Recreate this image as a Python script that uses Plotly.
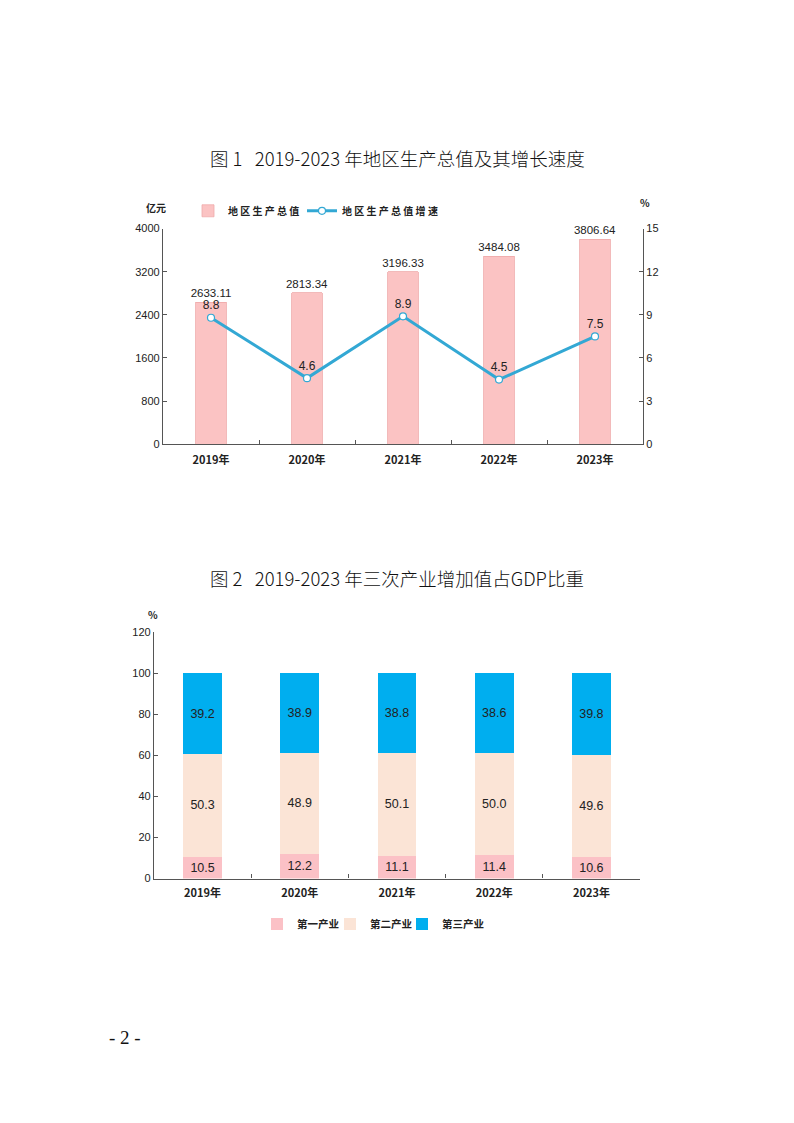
import plotly.graph_objects as go

# ---- data ----
years = ["2019年", "2020年", "2021年", "2022年", "2023年"]
gdp = [2633.11, 2813.34, 3196.33, 3484.08, 3806.64]
gdp_growth = [8.8, 4.6, 8.9, 4.5, 7.5]

primary = [10.5, 12.2, 11.1, 11.4, 10.6]
secondary = [50.3, 48.9, 50.1, 50.0, 49.6]
tertiary = [39.2, 38.9, 38.8, 38.6, 39.8]

W, H = 794, 1123
CJK = "Noto Sans CJK SC"
AX = "#555555"


def px_x(px):
    return px / W


def px_y(px):
    return 1 - px / H


def spaced(s):
    # legend labels in the original are letter-spaced
    return " ".join(s)


fig = go.Figure()

# ---- chart 1: GDP bars + growth line ----
fig.add_trace(go.Bar(
    x=years, y=gdp, name=spaced("地区生产总值"),
    marker=dict(color="#FBC3C3", line=dict(color="#EFA9A9", width=0.8)),
    text=[f"{v:.2f}" for v in gdp], textposition="outside",
    constraintext="none",
    textfont=dict(size=11.5, color="#222222", family="Liberation Sans"),
    cliponaxis=False, xaxis="x", yaxis="y", legend="legend",
))
fig.add_trace(go.Scatter(
    x=years, y=gdp_growth, name=spaced("地区生产总值增速"), mode="lines+markers+text",
    line=dict(color="#33A8D4", width=3),
    marker=dict(size=7, color="white", line=dict(color="#33A8D4", width=1.2)),
    text=[f"{v:.1f}" for v in gdp_growth], textposition="top center",
    textfont=dict(size=12, color="#222222", family="Liberation Sans"),
    cliponaxis=False, xaxis="x", yaxis="y2", legend="legend2",
))

# ---- chart 2: stacked shares ----
for i, (name, vals, col) in enumerate([("第一产业", primary, "#FBC1C6"),
                                       ("第二产业", secondary, "#FBE4D6"),
                                       ("第三产业", tertiary, "#00AEEF")]):
    fig.add_trace(go.Bar(
        x=years, y=vals, name=name,
        marker=dict(color=col, line=dict(width=0)),
        text=[f"{v:.1f}" for v in vals], textposition="inside",
        insidetextanchor="middle", constraintext="none",
        textfont=dict(size=12.5, color="#222222", family="Liberation Sans"),
        xaxis="x3", yaxis="y3", legend=f"legend{i + 3}", width=0.4,
    ))

tickfont = dict(size=11, color="#222222", family="Liberation Sans")
xtickfont = dict(size=11, color="#222222", family=CJK, weight="bold")
legfont = dict(size=10, family=CJK, color="#222222", weight="bold")
legfont2 = dict(size=10.5, family=CJK, color="#222222", weight="bold")


def leg(x, y, font=legfont):
    return dict(orientation="h", x=px_x(x), y=px_y(y), xanchor="left",
                yanchor="middle", font=font, bgcolor="rgba(0,0,0,0)",
                itemwidth=30)


fig.update_layout(
    width=W, height=H,
    margin=dict(l=0, r=0, t=0, b=0),
    paper_bgcolor="white", plot_bgcolor="white",
    barmode="stack", bargap=0.68,
    showlegend=True,
    xaxis=dict(domain=[px_x(163), px_x(643)], anchor="y", type="category",
               showline=True, linecolor=AX, linewidth=1.2,
               ticks="inside", ticklen=4, tickcolor=AX, tickson="boundaries",
               tickfont=xtickfont, ticklabelstandoff=5, showgrid=False),
    yaxis=dict(domain=[px_y(443), px_y(225)], anchor="x", range=[0, 4000],
               tickvals=[0, 800, 1600, 2400, 3200, 4000],
               showline=True, linecolor=AX, linewidth=1.2,
               ticks="inside", ticklen=4, tickcolor=AX,
               tickfont=tickfont, showgrid=False, zeroline=False),
    yaxis2=dict(overlaying="y", side="right", anchor="x", range=[0, 15],
                tickvals=[0, 3, 6, 9, 12, 15],
                showline=True, linecolor=AX, linewidth=1.2,
                ticks="inside", ticklen=4, tickcolor=AX,
                tickfont=tickfont, showgrid=False, zeroline=False),
    xaxis3=dict(domain=[px_x(154), px_x(640)], anchor="y3", type="category",
                showline=True, linecolor=AX, linewidth=1.2,
                ticks="inside", ticklen=4, tickcolor=AX, tickson="boundaries",
                tickfont=xtickfont, ticklabelstandoff=4, showgrid=False),
    yaxis3=dict(domain=[px_y(882), px_y(633)], anchor="x3", range=[0, 120],
                tickvals=[0, 20, 40, 60, 80, 100, 120],
                showline=True, linecolor=AX, linewidth=1.2,
                ticks="inside", ticklen=4, tickcolor=AX,
                tickfont=tickfont, showgrid=False, zeroline=False),
    legend=leg(188, 207),
    legend2=leg(302, 207),
    legend3=leg(257, 928, legfont2),
    legend4=leg(330, 928, legfont2),
    legend5=leg(402, 928, legfont2),
)

ann = [
    dict(text="图 1   2019-2023 年地区生产总值及其增长速度", x=px_x(397), y=px_y(154),
         font=dict(size=18.5, family=CJK, color="#111111", weight=300)),
    dict(text="图 2   2019-2023 年三次产业增加值占GDP比重", x=px_x(397), y=px_y(578),
         font=dict(size=18.5, family=CJK, color="#111111", weight=300)),
    dict(text="<b>亿元</b>", x=px_x(156), y=px_y(204),
         font=dict(size=10, family=CJK, color="#222222")),
    dict(text="<b>%</b>", x=px_x(645), y=px_y(199),
         font=dict(size=10, family=CJK, color="#222222")),
    dict(text="<b>%</b>", x=px_x(153), y=px_y(615),
         font=dict(size=10, family=CJK, color="#222222")),
    dict(text="- 2 -", x=px_x(125), y=px_y(1043),
         font=dict(size=19, family="Liberation Serif", color="#111111")),
]
for a in ann:
    a.update(xref="paper", yref="paper", showarrow=False,
             xanchor="center", yanchor="middle")
fig.update_layout(annotations=ann)

# drop the default page margin so the figure sits at the page origin
fig.write_html("out.html", config={"displayModeBar": False},
               post_script="document.body.style.margin='0';"
                           "document.body.style.overflow='hidden';")
